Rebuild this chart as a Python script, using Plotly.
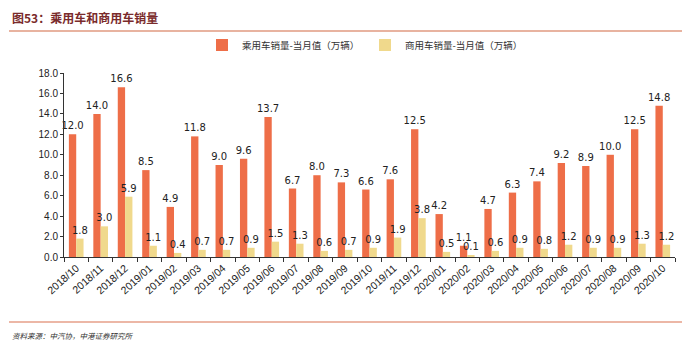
import plotly.graph_objects as go

months = ["2018/10","2018/11","2018/12","2019/01","2019/02","2019/03","2019/04","2019/05","2019/06","2019/07",
          "2019/08","2019/09","2019/10","2019/11","2019/12","2020/01","2020/02","2020/03","2020/04","2020/05",
          "2020/06","2020/07","2020/08","2020/09","2020/10"]
passenger = [12.0,14.0,16.6,8.5,4.9,11.8,9.0,9.6,13.7,6.7,8.0,7.3,6.6,7.6,12.5,4.2,1.1,4.7,6.3,7.4,9.2,8.9,10.0,12.5,14.8]
commercial = [1.8,3.0,5.9,1.1,0.4,0.7,0.7,0.9,1.5,1.3,0.6,0.7,0.9,1.9,3.8,0.5,0.1,0.6,0.9,0.8,1.2,0.9,0.9,1.3,1.2]
yticks = [0,2,4,6,8,10,12,14,16,18]

FONT = "Noto Sans CJK SC, Liberation Sans, Arial, sans-serif"
NUMFONT = "DejaVu Sans, Liberation Sans, Arial, sans-serif"

fig = go.Figure()
fig.add_trace(go.Bar(x=months, y=passenger, name="乘用车销量-当月值（万辆）",
                     marker=dict(color="#EE6E48", line=dict(width=0)),
                     text=[f"{v:.1f}" for v in passenger], textposition="outside",
                     constraintext="none",
                     textfont=dict(size=10, color="#222222", family=NUMFONT), cliponaxis=False))
fig.add_trace(go.Bar(x=months, y=commercial, name="商用车销量-当月值（万辆）",
                     marker=dict(color="#F0D98C", line=dict(width=0)),
                     text=[f"{v:.1f}" for v in commercial], textposition="outside",
                     constraintext="none",
                     textfont=dict(size=10, color="#222222", family=NUMFONT), cliponaxis=False))

W, H = 686, 350
L, R, T, B = 64, 11, 73, 93
pw, ph = W - L - R, H - T - B
def px(x): return (x - L) / pw
def py(y): return (H - B - y) / ph

fig.update_layout(
    width=W, height=H,
    margin=dict(l=L, r=R, t=T, b=B, pad=0),
    paper_bgcolor="white", plot_bgcolor="white",
    barmode="group", bargap=0.4, bargroupgap=0.0,
    font=dict(family=FONT, size=10, color="#222222"),
    showlegend=True,
    legend=dict(orientation="h", x=px(202), y=py(45), xanchor="left", yanchor="middle",
                font=dict(size=9.5, color="#333333"), traceorder="normal",
                entrywidth=118, bgcolor="rgba(0,0,0,0)"),
    xaxis=dict(type="category", showline=True, linecolor="#333333", linewidth=1,
               ticks="outside", ticklen=4, tickcolor="#333333", tickangle=-42,
               tickson="boundaries", tickfont=dict(size=10.5, color="#222222", family="Liberation Sans, Arial"),
               showgrid=False),
    yaxis=dict(range=[0, 18], tickvals=yticks, ticktext=[f"{v:.1f}" for v in yticks],
               showline=True, linecolor="#333333", linewidth=1, ticks="outside", ticklen=3,
               tickcolor="#333333", tickfont=dict(size=10, color="#222222", family="Liberation Sans, Arial"),
               showgrid=False, zeroline=False),
)

fig.add_annotation(text="<b>图53：乘用车和商用车销量</b>", xref="paper", yref="paper",
                   x=px(10), y=py(17), xanchor="left", yanchor="middle", showarrow=False,
                   font=dict(size=12, color="#7A2B2B", family=FONT))
fig.add_shape(type="line", xref="paper", yref="paper", x0=px(9), x1=px(682), y0=py(31), y1=py(31),
              line=dict(color="#E09A80", width=1.5))
fig.add_shape(type="line", xref="paper", yref="paper", x0=px(9), x1=px(682), y0=py(322), y1=py(322),
              line=dict(color="#D9704E", width=1.2))
fig.add_annotation(text="<i>资料来源：中汽协，中港证券研究所</i>", xref="paper", yref="paper",
                   x=px(10), y=py(335), xanchor="left", yanchor="middle", showarrow=False,
                   font=dict(size=7.5, color="#333333", family=FONT))

fig.write_html("out.html")
